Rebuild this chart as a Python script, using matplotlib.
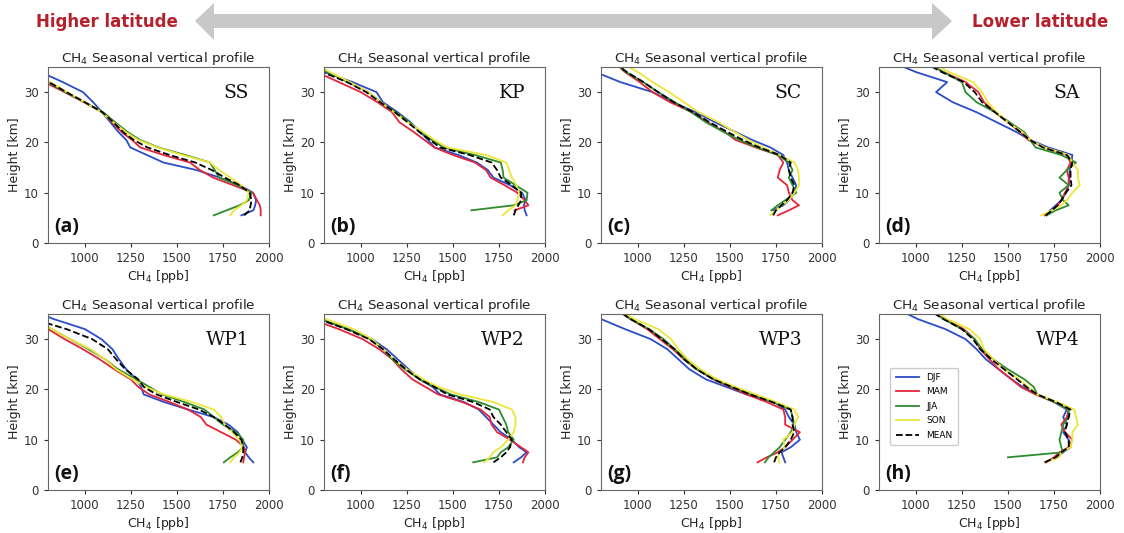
import numpy as np
import matplotlib as mp
mp.use('Agg')
import matplotlib.pyplot as plt
from matplotlib.patches import Polygon

nan = np.nan

# altitude levels [km]
heights = [5.5, 6.5, 7.5, 8.5, 10, 11.5, 13, 14.5, 16, 17.5, 19, 20.5, 22, 24, 26, 28, 30, 32, 34, 36]

seasons = ['DJF', 'MAM', 'JJA', 'SON', 'MEAN']
colors = ['#2b4cc7', '#e3263c', '#2e8b2e', '#ece63a', 'black']
styles = ['-', '-', '-', '-', '--']

# CH4 [ppb] per station, rows = DJF, MAM, JJA, SON, MEAN
ss = [
    [1850, 1915, 1925, 1930, 1913, 1841, 1733, 1607, 1427, 1337, 1247, 1225, 1184, 1139, 1094, 1045, 990, 880, 760, 650],
    [1955, 1955, 1950, 1935, 1913, 1805, 1697, 1625, 1571, 1427, 1301, 1256, 1202, 1148, 1094, 995, 890, 780, 700, 650],
    [1700, 1770, 1840, 1890, 1905, 1830, 1730, 1705, 1680, 1545, 1400, 1300, 1235, 1165, 1100, 1000, 895, 800, 730, 680],
    [1790, 1810, 1850, 1880, 1890, 1850, 1790, 1730, 1680, 1530, 1395, 1290, 1225, 1155, 1090, 1000, 905, 810, 740, 690],
    [1865, 1895, 1900, 1905, 1895, 1840, 1760, 1690, 1600, 1460, 1340, 1265, 1210, 1155, 1095, 1000, 900, 805, 720, 670],
]
kp = [
    [1900, 1890, 1885, 1895, 1875, 1810, 1720, 1690, 1630, 1530, 1400, 1365, 1325, 1270, 1200, 1120, 1085, 955, 800, 700],
    [nan, 1835, 1910, 1890, 1850, 1780, 1705, 1680, 1620, 1500, 1400, 1345, 1290, 1210, 1170, 1090, 1000, 880, 760, 680],
    [nan, 1600, 1830, 1900, 1905, 1840, 1775, 1770, 1760, 1620, 1450, 1385, 1330, 1265, 1190, 1110, 1040, 930, 820, 720],
    [1770, 1800, 1840, 1850, 1860, 1845, 1820, 1805, 1790, 1680, 1470, 1400, 1340, 1255, 1180, 1110, 1040, 940, 830, 740],
    [1830, 1840, 1855, 1870, 1870, 1820, 1760, 1740, 1710, 1590, 1430, 1375, 1320, 1255, 1185, 1105, 1030, 925, 790, 700],
]
sc = [
    [nan, 1735, 1790, 1820, 1850, 1860, 1840, 1820, 1810, 1790, 1720, 1620, 1535, 1420, 1315, 1190, 1080, 905, 770, 640],
    [1760, 1820, 1875, 1840, 1820, 1810, 1760, 1770, 1790, 1760, 1640, 1530, 1475, 1380, 1295, 1175, 1080, 1010, 930, 870],
    [nan, 1725, 1760, 1800, 1860, 1840, 1820, 1840, 1820, 1760, 1650, 1550, 1470, 1370, 1290, 1200, 1110, 1030, 935, 870],
    [1720, 1750, 1780, 1820, 1850, 1875, 1875, 1870, 1850, 1770, 1680, 1600, 1530, 1440, 1330, 1250, 1170, 1080, 1000, 900],
    [1735, 1750, 1780, 1810, 1840, 1850, 1830, 1820, 1830, 1770, 1660, 1570, 1490, 1390, 1300, 1195, 1110, 1030, 940, 870],
]
sa = [
    [1710, 1730, 1760, 1790, 1815, 1830, 1835, 1835, 1845, 1850, 1720, 1620, 1550, 1440, 1330, 1200, 1110, 1170, 1000, 870],
    [1700, 1740, 1770, 1790, 1810, 1830, 1830, 1820, 1840, 1820, 1700, 1610, 1570, 1500, 1430, 1370, 1340, 1270, 1150, 1050],
    [1710, 1760, 1830, 1800, 1780, 1830, 1780, 1820, 1870, 1790, 1650, 1620, 1590, 1510, 1430, 1330, 1270, 1250, 1150, 1050],
    [1680, 1740, 1790, 1820, 1850, 1890, 1880, 1880, 1850, 1830, 1700, 1620, 1580, 1500, 1440, 1390, 1360, 1310, 1180, 1080],
    [1705, 1740, 1770, 1790, 1815, 1845, 1840, 1840, 1850, 1820, 1690, 1620, 1570, 1500, 1430, 1360, 1320, 1260, 1140, 1040],
]
wp1 = [
    [1915, 1890, 1870, 1880, 1855, 1830, 1780, 1700, 1560, 1430, 1320, 1305, 1280, 1225, 1185, 1150, 1090, 1000, 830, 700],
    [1860, 1865, 1870, 1865, 1820, 1740, 1660, 1630, 1560, 1460, 1350, 1290, 1250, 1160, 1080, 990, 890, 800, 700, 640],
    [1755, 1790, 1830, 1860, 1860, 1820, 1750, 1700, 1650, 1540, 1420, 1350, 1280, 1180, 1110, 1020, 920, 820, 720, 660],
    [1790, 1810, 1840, 1855, 1840, 1800, 1760, 1740, 1700, 1580, 1430, 1330, 1260, 1170, 1110, 1030, 920, 820, 730, 670],
    [1845, 1855, 1860, 1860, 1850, 1810, 1760, 1700, 1620, 1500, 1390, 1320, 1290, 1220, 1170, 1125, 1040, 900, 720, 640],
]
wp2 = [
    [1830, 1870, 1900, 1860, 1820, 1760, 1720, 1680, 1640, 1560, 1430, 1390, 1320, 1260, 1200, 1140, 1060, 930, 780, 650],
    [1880, 1890, 1910, 1870, 1810, 1740, 1710, 1700, 1650, 1550, 1420, 1350, 1280, 1220, 1170, 1100, 1010, 880, 730, 620],
    [1610, 1740, 1760, 1800, 1830, 1800, 1790, 1770, 1750, 1640, 1490, 1400, 1320, 1240, 1170, 1120, 1050, 930, 780, 660],
    [1670, 1700, 1720, 1760, 1800, 1830, 1840, 1840, 1820, 1720, 1540, 1420, 1340, 1250, 1180, 1120, 1060, 960, 810, 700],
    [1720, 1760, 1790, 1810, 1820, 1790, 1760, 1720, 1700, 1610, 1470, 1400, 1320, 1245, 1180, 1120, 1045, 920, 770, 660],
]
wp3 = [
    [1800, 1790, 1780, 1830, 1880, 1860, 1850, 1820, 1800, 1740, 1590, 1480, 1370, 1280, 1220, 1160, 1070, 930, 800, 700],
    [1650, 1700, 1760, 1800, 1840, 1880, 1800, 1800, 1790, 1700, 1590, 1500, 1410, 1320, 1250, 1190, 1120, 1050, 960, 880],
    [1690, 1710, 1740, 1770, 1800, 1830, 1850, 1840, 1830, 1730, 1620, 1510, 1420, 1320, 1260, 1200, 1140, 1060, 960, 880],
    [1770, 1760, 1770, 1800, 1790, 1840, 1850, 1870, 1850, 1750, 1640, 1530, 1430, 1340, 1270, 1220, 1180, 1110, 980, 890],
    [1740, 1750, 1770, 1800, 1830, 1850, 1840, 1840, 1830, 1730, 1610, 1510, 1410, 1320, 1250, 1200, 1130, 1060, 960, 880],
]
wp4 = [
    [1700, 1760, 1800, 1840, 1830, 1800, 1820, 1800, 1820, 1750, 1660, 1580, 1520, 1450, 1380, 1330, 1270, 1160, 1010, 900],
    [1710, 1750, 1780, 1830, 1850, 1810, 1790, 1820, 1830, 1750, 1650, 1570, 1520, 1450, 1400, 1350, 1320, 1260, 1160, 1070],
    [nan, 1500, 1800, 1790, 1780, 1790, 1800, 1830, 1830, 1750, 1660, 1640, 1590, 1500, 1420, 1360, 1320, 1250, 1150, 1070],
    [1700, 1780, 1790, 1840, 1850, 1850, 1880, 1870, 1860, 1770, 1660, 1610, 1560, 1480, 1420, 1370, 1350, 1290, 1170, 1090],
    [1700, 1760, 1790, 1830, 1830, 1810, 1820, 1830, 1840, 1760, 1660, 1600, 1550, 1480, 1410, 1350, 1310, 1250, 1150, 1060],
]

stations = ['SS', 'KP', 'SC', 'SA', 'WP1', 'WP2', 'WP3', 'WP4']
letters = ['(a)', '(b)', '(c)', '(d)', '(e)', '(f)', '(g)', '(h)']
profiles = [ss, kp, sc, sa, wp1, wp2, wp3, wp4]

W, H = 1124, 533
fig = plt.figure(figsize=(W / 100, H / 100), dpi=100)

lefts = [48, 324, 601, 879]
tops = [67, 314]
aw, ah = 221, 176

for i in range(8):
    r, c = divmod(i, 4)
    ax = fig.add_axes([lefts[c] / W, 1 - (tops[r] + ah) / H, aw / W, ah / H])
    for k in range(5):
        ax.plot(profiles[i][k], heights, color=colors[k], ls=styles[k], lw=1.3, label=seasons[k])
    ax.set_xlim(800, 2000)
    ax.set_ylim(0, 35)
    ax.set_xticks([1000, 1250, 1500, 1750, 2000])
    ax.set_yticks([0, 10, 20, 30])
    ax.tick_params(labelsize=8.5, colors='#333333', length=3)
    for s in ax.spines.values():
        s.set_color('#666666')
    ax.set_title('CH$_4$ Seasonal vertical profile', fontsize=9.7, color='#222222', pad=3)
    ax.set_xlabel('CH$_4$ [ppb]', fontsize=9, color='#222222', labelpad=2)
    ax.set_ylabel('Height [km]', fontsize=9, color='#222222', labelpad=2)
    ax.text(0.91, 0.85, stations[i], transform=ax.transAxes, ha='right', va='center',
            fontsize=13.5, family='DejaVu Serif', color='#111111')
    ax.text(0.03, 0.09, letters[i], transform=ax.transAxes, ha='left', va='center',
            fontsize=14, fontweight='bold', family='Open Sans', color='#111111')
    if i == 7:
        ax.legend(loc='center left', bbox_to_anchor=(0.03, 0.475), fontsize=6.5,
                  handlelength=2.6, labelspacing=0.6, borderpad=0.6, framealpha=1)

# latitude arrow on top
pts = [(195, 21), (214, 3), (214, 14), (932, 14), (932, 3), (952, 21),
       (932, 40), (932, 28), (214, 28), (214, 40)]
fig.patches.append(Polygon([(x / W, 1 - y / H) for x, y in pts], closed=True,
                           transform=fig.transFigure, facecolor='#c8c8c8', edgecolor='none'))
fig.text(107 / W, 1 - 22 / H, 'Higher latitude', ha='center', va='center', fontsize=12,
         fontweight='bold', color='#b5202c', family=['Liberation Sans Narrow', 'DejaVu Sans'])
fig.text(1040 / W, 1 - 22 / H, 'Lower latitude', ha='center', va='center', fontsize=12,
         fontweight='bold', color='#b5202c', family=['Liberation Sans Narrow', 'DejaVu Sans'])

fig.savefig('out.png', dpi=100)
